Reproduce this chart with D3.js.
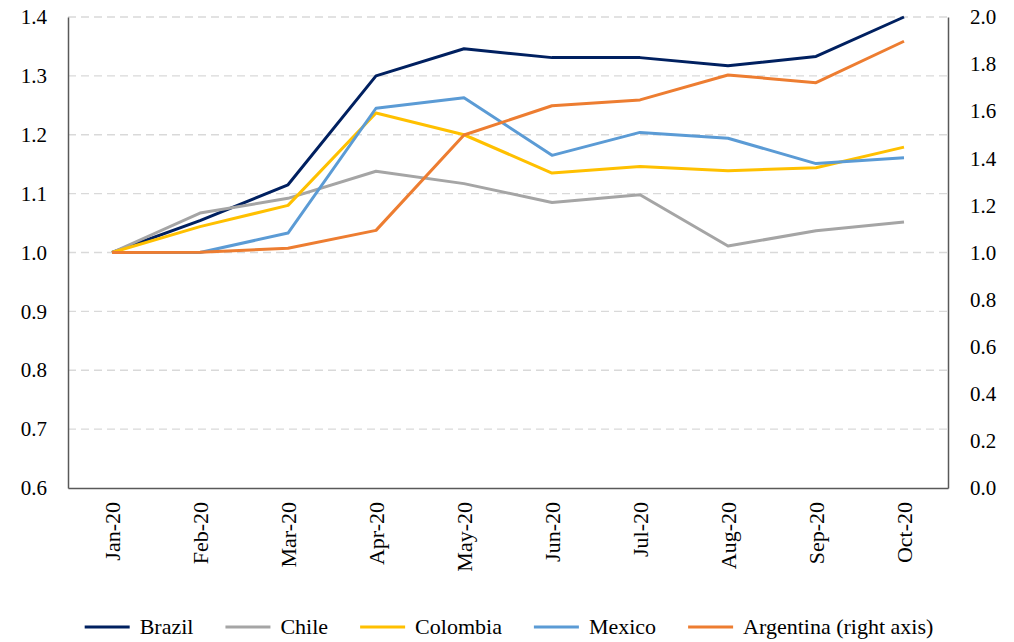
<!DOCTYPE html>
<html>
<head>
<meta charset="utf-8">
<script src="https://cdn.jsdelivr.net/npm/d3@7"></script>
<style>
  body { margin: 0; background: #fff; }
  svg text { font-family: 'Liberation Serif', 'Times New Roman', serif; fill: #000; }
</style>
</head>
<body>
<script>
var months = ["Jan-20", "Feb-20", "Mar-20", "Apr-20", "May-20", "Jun-20", "Jul-20", "Aug-20", "Sep-20", "Oct-20"];
var brazil    = [1.000, 1.054, 1.115, 1.300, 1.346, 1.331, 1.331, 1.317, 1.333, 1.400];
var chile     = [1.000, 1.067, 1.092, 1.138, 1.117, 1.085, 1.098, 1.011, 1.037, 1.052];
var colombia  = [1.000, 1.044, 1.080, 1.237, 1.200, 1.135, 1.146, 1.139, 1.144, 1.179];
var mexico    = [1.000, 1.000, 1.033, 1.245, 1.263, 1.165, 1.204, 1.194, 1.151, 1.161];
var argentina = [1.000, 1.001, 1.018, 1.094, 1.499, 1.623, 1.648, 1.754, 1.721, 1.897];
var leftTicks = [0.6, 0.7, 0.8, 0.9, 1.0, 1.1, 1.2, 1.3, 1.4];
var rightTicks = [0.0, 0.2, 0.4, 0.6, 0.8, 1.0, 1.2, 1.4, 1.6, 1.8, 2.0];

var series = [
  {name: "Brazil", values: brazil, color: "#002060", axis: "left"},
  {name: "Chile", values: chile, color: "#A5A5A5", axis: "left"},
  {name: "Colombia", values: colombia, color: "#FFC000", axis: "left"},
  {name: "Mexico", values: mexico, color: "#5B9BD5", axis: "left"},
  {name: "Argentina (right axis)", values: argentina, color: "#ED7D31", axis: "right"}
];

var FONT = "'Liberation Serif', 'Times New Roman', serif";

var margin = {top: 17, right: 66, bottom: 154, left: 68},
    width = 1014 - margin.left - margin.right,
    height = 642 - margin.top - margin.bottom;

var svg = d3.select("body").append("svg")
    .attr("width", 1014)
    .attr("height", 642);

var g = svg.append("g")
    .attr("transform", "translate(" + margin.left + "," + margin.top + ")");

var x = d3.scalePoint()
    .domain(months)
    .range([0, width])
    .padding(0.5);

var yL = d3.scaleLinear().domain([0.6, 1.4]).range([height, 0]);
var yR = d3.scaleLinear().domain([0, 2.0]).range([height, 0]);

// gridlines
g.append("g")
  .selectAll("line")
  .data(leftTicks.slice(1))
  .enter().append("line")
    .attr("x1", 0)
    .attr("x2", width)
    .attr("y1", function(d) { return yL(d); })
    .attr("y2", function(d) { return yL(d); })
    .attr("stroke", "#D9D9D9")
    .attr("stroke-width", 1.3)
    .attr("stroke-dasharray", "8,5");

// axes
var axL = g.append("g")
    .call(d3.axisLeft(yL).tickValues(leftTicks).tickSize(0).tickPadding(21).tickFormat(d3.format(".1f")));
var axR = g.append("g")
    .attr("transform", "translate(" + width + ",0)")
    .call(d3.axisRight(yR).tickValues(rightTicks).tickSize(0).tickPadding(22).tickFormat(d3.format(".1f")));
var axB = g.append("g")
    .attr("transform", "translate(0," + height + ")")
    .call(d3.axisBottom(x).tickSize(0).tickPadding(0));

[axL, axR, axB].forEach(function(a) {
  a.attr("font-family", FONT).attr("font-size", 21);
  a.select(".domain").attr("stroke", "#595959").attr("stroke-width", 1.5);
  a.selectAll("text").attr("fill", "#000");
});

axB.attr("font-size", 22);
axB.selectAll("text")
    .attr("transform", "rotate(-90)")
    .attr("x", -14)
    .attr("y", 0)
    .attr("dy", "0.35em")
    .style("text-anchor", "end");

// lines
series.forEach(function(s) {
  var ys = s.axis === "left" ? yL : yR;
  var line = d3.line()
      .x(function(d, i) { return x(months[i]); })
      .y(function(d) { return ys(d); });
  g.append("path")
      .datum(s.values)
      .attr("fill", "none")
      .attr("stroke", s.color)
      .attr("stroke-width", 3)
      .attr("stroke-linejoin", "round")
      .attr("d", line);
});

// legend
var legend = svg.append("g")
    .attr("font-family", FONT)
    .attr("font-size", 22);
var lx = 0, gap = 32;
series.forEach(function(s) {
  var it = legend.append("g").attr("transform", "translate(" + lx + ",0)");
  it.append("line")
      .attr("x1", 0).attr("x2", 45)
      .attr("stroke", s.color)
      .attr("stroke-width", 3);
  var t = it.append("text")
      .attr("x", 55)
      .attr("dy", "0.33em")
      .text(s.name);
  lx += 55 + t.node().getComputedTextLength() + gap;
});
var totalW = lx - gap;
legend.attr("transform", "translate(" + (509 - totalW / 2) + ",627)");
</script>
</body>
</html>
